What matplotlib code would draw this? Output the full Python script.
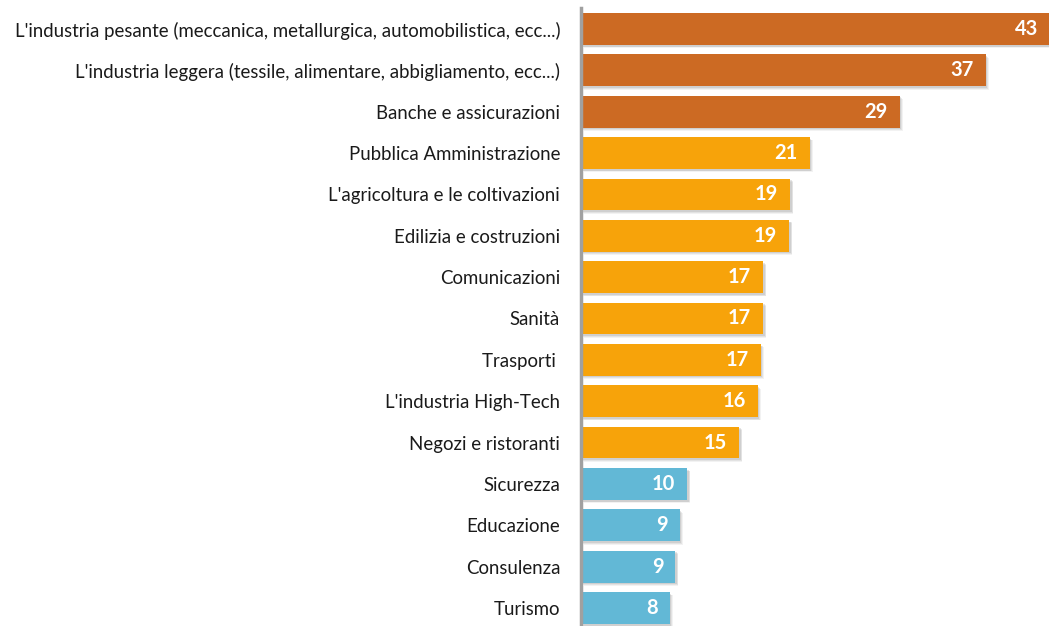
import matplotlib
matplotlib.use("Agg")
import matplotlib.pyplot as plt
import matplotlib.patheffects as pe

# Settori e percentuali
settori = [
    "L'industria pesante (meccanica, metallurgica, automobilistica, ecc...)",
    "L'industria leggera (tessile, alimentare, abbigliamento, ecc...)",
    "Banche e assicurazioni",
    "Pubblica Amministrazione",
    "L'agricoltura e le coltivazioni",
    "Edilizia e costruzioni",
    "Comunicazioni",
    "Sanità",
    "Trasporti ",
    "L'industria High-Tech",
    "Negozi e ristoranti",
    "Sicurezza",
    "Educazione",
    "Consulenza",
    "Turismo",
]
valori = [43.3, 37.3, 29.4, 21.1, 19.3, 19.2, 16.8, 16.8, 16.6, 16.3, 14.6, 9.8, 9.1, 8.7, 8.2]
gruppi = ["alto"] * 3 + ["medio"] * 8 + ["basso"] * 4

colori_gruppo = {"alto": "#CC6A23", "medio": "#F7A30A", "basso": "#62B8D6"}
colori = [colori_gruppo[g] for g in gruppi]

plt.rcParams['font.family'] = ['Lato', 'DejaVu Sans']

fig = plt.figure(figsize=(10.49, 6.26), dpi=100)
ax = fig.add_axes([581 / 1049, 0, 468 / 1049, 618 / 626])

pos = list(range(len(settori)))
bars = ax.barh(pos, valori, height=0.77, color=colori, zorder=2)

# Ombra sfumata sotto le barre (piu' strati leggeri)
for b in bars:
    b.set_path_effects([
        pe.SimplePatchShadow(offset=(2.2, -2.4), shadow_rgbFace='#9a9a9a', alpha=0.12),
        pe.SimplePatchShadow(offset=(1.6, -1.8), shadow_rgbFace='#9a9a9a', alpha=0.18),
        pe.SimplePatchShadow(offset=(1.0, -1.2), shadow_rgbFace='#9a9a9a', alpha=0.25),
        pe.Normal(),
    ])

# Valori in bianco dentro le barre
px_per_unit = 10.85
for y, v in zip(pos, valori):
    ax.text(v - 12 / px_per_unit, y, f"{v:.0f}", ha='right', va='center',
            color='white', fontsize=14.5, fontweight='bold', zorder=3)

ax.set_xlim(0, 468 / px_per_unit)
ax.set_ylim(14 + 18 / 41.36, -21 / 41.36)

ax.set_yticks(pos)
ax.set_yticklabels(settori, fontsize=13.4, color='#1a1a1a')
ax.tick_params(axis='y', length=0, pad=15)
ax.set_xticks([])

for s in ['top', 'right', 'bottom']:
    ax.spines[s].set_visible(False)
ax.spines['left'].set_color('#A0A0A0')
ax.spines['left'].set_linewidth(2.5)
ax.spines['left'].set_zorder(4)

fig.savefig("out.png", dpi=100)
